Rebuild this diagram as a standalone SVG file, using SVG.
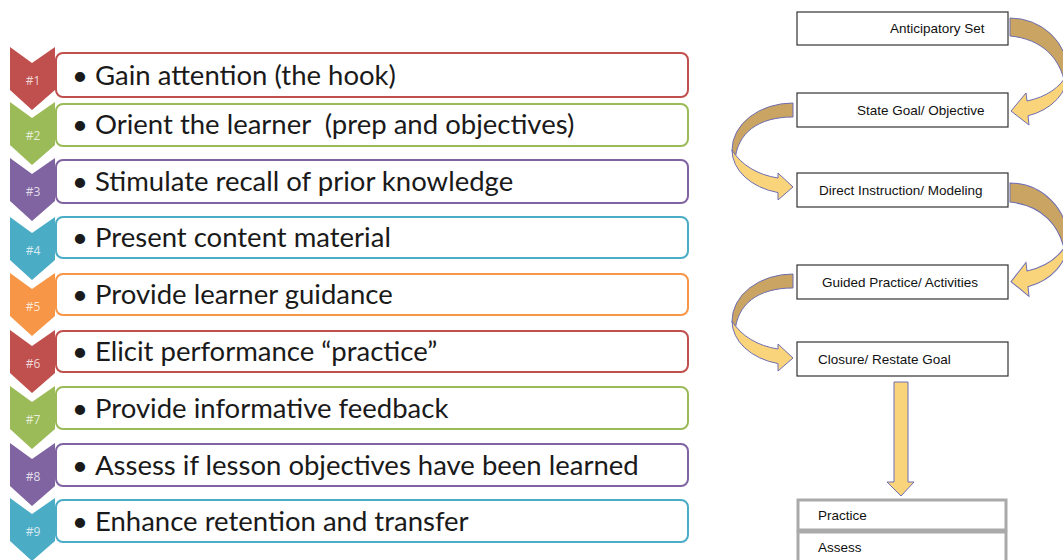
<svg xmlns="http://www.w3.org/2000/svg" xmlns:xlink="http://www.w3.org/1999/xlink" width="1063" height="560" viewBox="0 0 1063 560">
<style>
.row{fill:#fff;stroke-width:2}
.lt{font-family:Lato,"Open Sans","Liberation Sans",sans-serif;font-size:27.5px;fill:#1a1a1a}
.num{font-family:"Open Sans","Liberation Sans",Arial,sans-serif;font-size:12px;fill:#fff;fill-opacity:.78;text-anchor:middle}
.box{fill:#fff;stroke:#333;stroke-width:1.2}
.gbox{fill:#fff;stroke:#aaa;stroke-width:3}
.bt{font-family:"Liberation Sans",Arial,sans-serif;font-size:13.5px;fill:#111}
.dark{fill:#C9A462;stroke:#6E6EB4;stroke-width:1}
.light{fill:#F9D47B;stroke:#6E6EB4;stroke-width:1}
.red{stroke:#C0504D}.redf{fill:#C0504D}
.grn{stroke:#9BBB59}.grnf{fill:#9BBB59}
.pur{stroke:#8064A2}.purf{fill:#8064A2}
.aqu{stroke:#4BACC6}.aquf{fill:#4BACC6}
.org{stroke:#F79646}.orgf{fill:#F79646}
</style>
<defs>
<path id="chev" d="M10,0 L32,16 L55,0 L55,43 L32,63 L10,43 Z"/>
<g id="arrowR">
<path class="dark" d="M0,0 A58,55 0 0 1 58,55 L55,66 C50,40 32,21 0,18 Z"/>
<path class="light" d="M58,55 A58,45 0 0 1 18,97.8 L19,107 L1,93 L16,75 L17,83 C36,79 50,70 58,55 Z"/>
</g>
<g id="arrowL">
<path class="dark" d="M0,0 A61,47 0 0 0 -61,47 L-58,58 C-56,30 -35,14 0,14 Z"/>
<path class="light" d="M-61,47 A61,44 0 0 0 -15,89.6 L-15,97 L0,84 L-15,70 L-15,75 C-35,72 -52,62 -61,47 Z"/>
</g>
</defs>
<rect width="1063" height="560" fill="#fff"/>

<g id="step1"><rect class="row red" x="56" y="53" width="632" height="44" rx="7"/><use href="#chev" class="redf" transform="translate(0,47)"/><text class="num" x="33" y="85">#1</text><text class="lt" x="72" y="85">•<tspan x="95">Gain attention (the hook)</tspan></text></g>
<g id="step2"><rect class="row grn" x="56" y="104" width="632" height="42" rx="7"/><use href="#chev" class="grnf" transform="translate(0,102)"/><text class="num" x="33" y="140">#2</text><text class="lt" x="72" y="134" xml:space="preserve">•<tspan x="95">Orient the learner  (prep and objectives)</tspan></text></g>
<g id="step3"><rect class="row pur" x="56" y="160" width="632" height="43" rx="7"/><use href="#chev" class="purf" transform="translate(0,158)"/><text class="num" x="33" y="196">#3</text><text class="lt" x="72" y="191">•<tspan x="95">Stimulate recall of prior knowledge</tspan></text></g>
<g id="step4"><rect class="row aqu" x="56" y="217" width="632" height="41" rx="7"/><use href="#chev" class="aquf" transform="translate(0,217)"/><text class="num" x="33" y="255">#4</text><text class="lt" x="72" y="247">•<tspan x="95">Present content material</tspan></text></g>
<g id="step5"><rect class="row org" x="56" y="274" width="632" height="41" rx="7"/><use href="#chev" class="orgf" transform="translate(0,273)"/><text class="num" x="33" y="311">#5</text><text class="lt" x="72" y="304">•<tspan x="95">Provide learner guidance</tspan></text></g>
<g id="step6"><rect class="row red" x="56" y="331" width="632" height="41" rx="7"/><use href="#chev" class="redf" transform="translate(0,330)"/><text class="num" x="33" y="368">#6</text><text class="lt" x="72" y="361">•<tspan x="95">Elicit performance “practice”</tspan></text></g>
<g id="step7"><rect class="row grn" x="56" y="387" width="632" height="42" rx="7"/><use href="#chev" class="grnf" transform="translate(0,386)"/><text class="num" x="33" y="424">#7</text><text class="lt" x="72" y="418">•<tspan x="95">Provide informative feedback</tspan></text></g>
<g id="step8"><rect class="row pur" x="56" y="444" width="632" height="42" rx="7"/><use href="#chev" class="purf" transform="translate(0,443)"/><text class="num" x="33" y="481">#8</text><text class="lt" x="72" y="475">•<tspan x="95">Assess if lesson objectives have been learned</tspan></text></g>
<g id="step9"><rect class="row aqu" x="56" y="500" width="632" height="42" rx="7"/><use href="#chev" class="aquf" transform="translate(0,498)"/><text class="num" x="33" y="536">#9</text><text class="lt" x="72" y="531">•<tspan x="95">Enhance retention and transfer</tspan></text></g>

<g id="connectors">
<use href="#arrowR" transform="translate(1010,18)"/>
<use href="#arrowL" transform="translate(793,103)"/>
<use href="#arrowR" transform="translate(1010,183) scale(1,1.06)"/>
<use href="#arrowL" transform="translate(793,274)"/>
<polygon class="light" points="894,382 908,382 908,482 914,482 901,496 887,482 894,482"/>
</g>

<g id="anticipatory"><rect class="box" x="797" y="12" width="211" height="33"/><text class="bt" x="890" y="33">Anticipatory Set</text></g>
<g id="goal"><rect class="box" x="797" y="93" width="211" height="34"/><text class="bt" x="857" y="115">State Goal/ Objective</text></g>
<g id="instruction"><rect class="box" x="797" y="173" width="211" height="34"/><text class="bt" x="819" y="195">Direct Instruction/ Modeling</text></g>
<g id="guided"><rect class="box" x="797" y="265" width="211" height="34"/><text class="bt" x="822" y="287">Guided Practice/ Activities</text></g>
<g id="closure"><rect class="box" x="797" y="342" width="211" height="34"/><text class="bt" x="818" y="364">Closure/ Restate Goal</text></g>
<g id="practice"><rect class="gbox" x="798" y="500" width="208" height="30"/><text class="bt" x="818" y="520">Practice</text></g>
<g id="assess"><rect class="gbox" x="798" y="532" width="208" height="34"/><text class="bt" x="818" y="552">Assess</text></g>
</svg>
